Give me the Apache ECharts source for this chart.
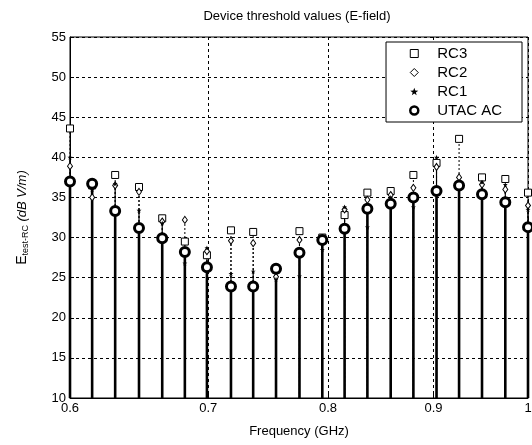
<!DOCTYPE html>
<html>
<head>
<meta charset="utf-8">
<script src="https://cdn.jsdelivr.net/npm/echarts@6/dist/echarts.min.js"></script>
<style>
  html, body { margin: 0; padding: 0; background: #fff; }
  #chart { width: 532px; height: 445px; }
</style>
</head>
<body>
<div id="chart"></div>
<script>
// frequencies (GHz) of the stems
const freq = [0.600, 0.615, 0.631, 0.648, 0.665, 0.682, 0.699, 0.718, 0.736, 0.755, 0.775,
              0.795, 0.815, 0.836, 0.858, 0.880, 0.903, 0.926, 0.950, 0.975, 1.000];
const rc3 = [43.6, 36.5, 37.8, 36.3, 32.4, 29.5, 27.8, 30.9, 30.7, 26.0, 30.8,
             30.0, 32.8, 35.6, 35.8, 37.8, 39.3, 42.3, 37.5, 37.3, 35.6];
const rc2 = [38.9, 35.0, 36.5, 35.7, 32.0, 32.2, 28.3, 29.6, 29.3, 25.1, 29.7,
             29.5, 33.5, 34.7, 35.3, 36.2, 38.8, 37.5, 36.6, 36.0, 34.0];
const rc1 = [40.0, 36.0, 36.7, 33.4, 31.8, 26.8, 28.7, 25.5, 25.8, 24.8, 25.2,
             28.5, 33.8, 31.3, 35.0, 33.8, 40.0, 37.0, 36.9, 36.6, 33.5];
const utac = [37.0, 36.7, 33.3, 31.2, 29.9, 28.2, 26.3, 23.9, 23.9, 26.1, 28.1,
              29.7, 31.1, 33.6, 34.2, 35.0, 35.8, 36.5, 35.4, 34.4, 31.3];
const xTicks = [0.6, 0.7, 0.8, 0.9, 1];
const yMin = 10;

const FONT = 'Liberation Sans';
const pairs = vals => freq.map((f, i) => [f, vals[i]]);

// vertical stem from the bottom of the axis up to each value
const stem = (name, vals, width, dash) => ({
  type: 'custom',
  name: name + '-stem',
  data: pairs(vals),
  encode: { x: 0, y: 1 },
  z: 2,
  silent: true,
  renderItem: (params, api) => {
    const top = api.coord([api.value(0), api.value(1)]);
    const base = api.coord([api.value(0), yMin]);
    return {
      type: 'line',
      shape: { x1: top[0], y1: base[1], x2: top[0], y2: top[1] },
      style: { stroke: '#000', lineWidth: width, lineDash: dash }
    };
  }
});

const marks = (name, vals, symbol, size, fill, border) => ({
  type: 'scatter',
  name: name,
  data: pairs(vals),
  symbol: symbol,
  symbolSize: size,
  z: 5,
  itemStyle: { color: fill, borderColor: '#000', borderWidth: border, opacity: 1 }
});

const star = 'path://M0,-5L1.2,-1.6L4.8,-1.5L1.9,0.6L2.9,4L0,2L-2.9,4L-1.9,0.6L-4.8,-1.5L-1.2,-1.6Z';

const chart = echarts.init(document.getElementById('chart'), null, { renderer: 'canvas' });
chart.setOption({
  animation: false,
  backgroundColor: '#fff',
  textStyle: { fontFamily: FONT, color: '#000' },
  title: {
    text: 'Device threshold values (E-field)',
    left: 292, textAlign: 'center', top: 5,
    textStyle: { fontFamily: FONT, fontSize: 13, fontWeight: 'normal', color: '#000' }
  },
  legend: {
    orient: 'vertical',
    right: 10, top: 42,
    padding: [4, 20, 4, 23],
    itemGap: 4,
    itemWidth: 8, itemHeight: 8,
    borderColor: '#000', borderWidth: 1,
    backgroundColor: '#fff',
    data: [
      { name: 'RC3', itemStyle: { borderWidth: 1 } },
      { name: 'RC2', itemStyle: { borderWidth: 1 } },
      { name: 'RC1' },
      { name: 'UTAC AC', itemStyle: { borderWidth: 2.5 } }
    ],
    textStyle: { fontFamily: FONT, fontSize: 15, color: '#000', padding: [0, 0, 0, 14] }
  },
  grid: {
    left: 70, right: 4, top: 37, bottom: 47,
    show: true, borderColor: '#000', borderWidth: 1,
    outerBoundsMode: 'none'
  },
  xAxis: {
    type: 'log',
    logBase: 10,
    min: 0.6, max: 1,
    name: 'Frequency (GHz)',
    nameLocation: 'middle',
    nameGap: 27,
    nameTextStyle: { fontFamily: FONT, fontSize: 13, color: '#000' },
    axisLine: { lineStyle: { color: '#000', width: 1 } },
    axisTick: { customValues: xTicks, inside: true, length: 4, lineStyle: { color: '#000' } },
    axisLabel: {
      customValues: xTicks,
      fontFamily: FONT, fontSize: 13, color: '#000', margin: 4,
      formatter: v => String(Math.round(v * 10) / 10)
    },
    splitLine: { show: true, lineStyle: { color: '#000', width: 1, type: [3, 3] } }
  },
  yAxis: {
    type: 'value',
    min: 10, max: 55, interval: 5,
    name: '{e|E}{s|test-RC} {u|(dB V/m)}',
    nameLocation: 'middle',
    nameGap: 40,
    nameTextStyle: {
      rich: {
        e: { fontFamily: FONT, fontSize: 14, color: '#000' },
        s: { fontFamily: FONT, fontSize: 9, color: '#000', verticalAlign: 'bottom', padding: [6, 0, 0, 0] },
        u: { fontFamily: FONT, fontSize: 13, fontStyle: 'italic', color: '#000' }
      }
    },
    axisLine: { show: true, lineStyle: { color: '#000', width: 1 } },
    axisTick: { inside: true, length: 4, lineStyle: { color: '#000' } },
    axisLabel: { fontFamily: FONT, fontSize: 13, color: '#000', margin: 4 },
    splitLine: { show: true, lineStyle: { color: '#000', width: 1, type: [3, 3] } }
  },
  series: [
    stem('RC3', rc3, 1, [2, 2]),
    stem('RC2', rc2, 1, [2, 2]),
    stem('RC1', rc1, 1.2, null),
    stem('UTAC AC', utac, 2.6, null),
    marks('RC3', rc3, 'rect', 7, '#fff', 1),
    marks('RC2', rc2, 'diamond', [5, 7], '#fff', 1),
    marks('RC1', rc1, star, 5, '#000', 0),
    marks('UTAC AC', utac, 'circle', 9, '#fff', 3)
  ]
});
</script>
</body>
</html>
